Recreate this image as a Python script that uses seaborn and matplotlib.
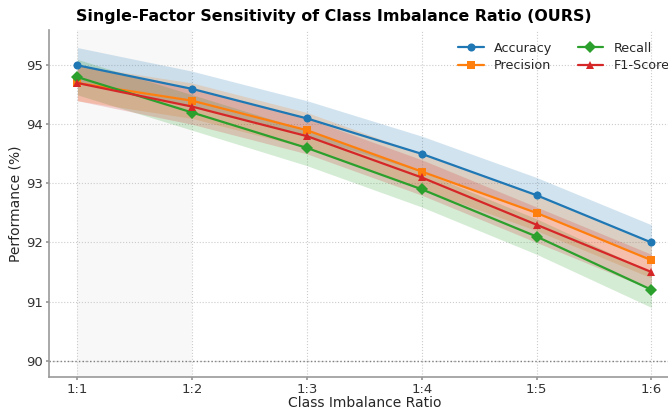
import numpy as np
import pandas as pd
import matplotlib
matplotlib.use("Agg")
import matplotlib.pyplot as plt
import seaborn as sns

ratios = ["1:1", "1:2", "1:3", "1:4", "1:5", "1:6"]
accuracy = [95.0, 94.6, 94.1, 93.5, 92.8, 92.0]
precision = [94.7, 94.4, 93.9, 93.2, 92.5, 91.7]
recall = [94.8, 94.2, 93.6, 92.9, 92.1, 91.2]
f1 = [94.7, 94.3, 93.8, 93.1, 92.3, 91.5]
band = 0.3

sns.set_theme(style="whitegrid")
plt.rcParams['font.family'] = ['DejaVu Sans']

fig, ax = plt.subplots(figsize=(6.68, 4.09), dpi=100)

series = [("Accuracy", accuracy, "#1f77b4", "o"),
          ("Precision", precision, "#ff7f0e", "s"),
          ("Recall", recall, "#2ca02c", "D"),
          ("F1-Score", f1, "#d62728", "^")]

x = np.arange(len(ratios))
ax.axvspan(0, 1, color="#f2f2f2", alpha=0.5, zorder=0, lw=0)
for name, vals, col, mk in series:
    v = np.array(vals)
    ax.fill_between(x, v - band, v + band, color=col, alpha=0.2, lw=0)
for name, vals, col, mk in series:
    df = pd.DataFrame({"x": x, "y": vals})
    sns.lineplot(data=df, x="x", y="y", ax=ax, color=col, marker=mk, markersize=5.8,
                 linewidth=1.6, markeredgewidth=0, label=name)

ax.axhline(90, color="gray", ls=":", lw=1)
ax.set_xticks(x)
ax.set_xticklabels(ratios)
ax.set_xlim(-0.25, 5.25)
ax.set_ylim(89.72, 95.6)
ax.set_yticks([90, 91, 92, 93, 94, 95])
ax.grid(True, ls=":", color="#cccccc", lw=0.8)
ax.set_facecolor("white")
for s in ["top", "right"]:
    ax.spines[s].set_visible(False)
for s in ["left", "bottom"]:
    ax.spines[s].set_color("#999999")
    ax.spines[s].set_linewidth(1.2)
ax.tick_params(axis="both", length=2.5, pad=1.5, color="#999999", labelsize=9.5, colors="#333333", left=True, bottom=True)
ax.set_xlabel("Class Imbalance Ratio", fontsize=10, labelpad=0)
ax.set_ylabel("Performance (%)", fontsize=10, labelpad=3)
fig.suptitle("Single-Factor Sensitivity of Class Imbalance Ratio (OURS)", fontsize=11.4,
             fontweight="bold", color="black", x=0.5, y=0.978, va="top")
ax.legend(ncol=2, frameon=False, loc="upper left", bbox_to_anchor=(0.678, 0.911),
          bbox_transform=fig.transFigure, fontsize=9.2, labelspacing=0.35, borderaxespad=0)
fig.subplots_adjust(left=0.073, right=1.018, top=0.927, bottom=0.078)
fig.savefig("out.png", dpi=100)
